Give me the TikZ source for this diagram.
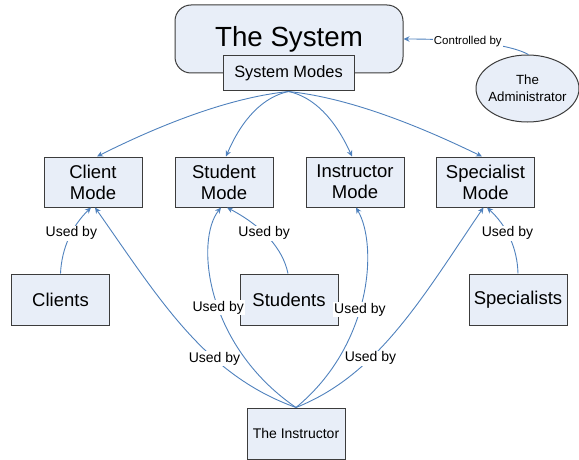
\documentclass[tikz,border=0pt]{standalone}
\usepackage{fontspec}
\setmainfont{Liberation Sans}
\usetikzlibrary{shapes.geometric,arrows.meta}
\definecolor{boxfill}{RGB}{232,238,248}
\definecolor{boxline}{RGB}{60,60,60}
\definecolor{connblue}{RGB}{79,129,189}
\begin{document}
\begin{tikzpicture}[x=1pt,y=-1pt,
  box/.style={draw=boxline,line width=1pt,fill=boxfill,inner sep=0pt,align=center},
  modebox/.style={box,minimum width=98pt,minimum height=50pt,font=\fontsize{18.5}{21}\selectfont},
  actor/.style={box,minimum width=98pt,minimum height=51pt,font=\fontsize{18.5}{21}\selectfont},
  conn/.style={draw=connblue,line width=0.9pt,-{Stealth[length=6pt,width=5.5pt]}},
  lab/.style={fill=white,inner sep=1pt,font=\fontsize{14}{16}\selectfont},
]
\useasboundingbox (0,0) rectangle (579,460);
% top
\node[box,rounded corners=16pt,minimum width=228pt,minimum height=68pt,font=\fontsize{27.7}{30}\selectfont] (sys) at (289,39) {The System};
\node[box,minimum width=131pt,minimum height=35pt,font=\fontsize{16.4}{19}\selectfont] (modes) at (288.5,73.5) {System Modes};
\node[box,ellipse,minimum width=103pt,minimum height=67pt] (admin) at (527.5,88.5) {};
\node[align=center,inner sep=0pt,font=\fontsize{13.3}{17}\selectfont] (admintext) at (admin.center) {The\\Administrator};
% modes
\node[modebox] (client) at (93,182) {Client\\Mode};
\node[modebox] (student) at (224,182) {Student\\Mode};
\node[modebox] (instr) at (355,182) {Instructor\\Mode};
\node[modebox] (spec) at (485.5,182) {Specialist\\Mode};
% users
\node[actor] (clients) at (60.5,299.5) {Clients};
\node[actor] (students) at (289,299.5) {Students};
\node[actor] (specs) at (518,299.5) {Specialists};
\node[actor,font=\fontsize{14}{16}\selectfont] (instructor) at (296,433.5) {The Instructor};
% system modes -> modes
\draw[conn] (modes.south) .. controls (236,97) and (172,119) .. ([xshift=4pt]client.north);
\draw[conn] (modes.south) .. controls (263,97) and (242,119) .. ([xshift=2pt]student.north);
\draw[conn] (modes.south) .. controls (314,97) and (335,119) .. ([xshift=-3pt]instr.north);
\draw[conn] (modes.south) .. controls (341,97) and (405,119) .. ([xshift=-3.5pt]spec.north);
% admin -> system
\draw[conn] ([xshift=1pt]admin.north) .. controls (505,42) and (450,39) .. (sys.east)
  node[lab,pos=0.55,font=\fontsize{11.5}{13}\selectfont] {Controlled by};
% users -> modes
\draw[conn] (clients.north) .. controls (61.7,248) and (72,226) .. ([xshift=-2pt]client.south)
  node[lab,pos=0.57] {Used by};
\draw[conn] ([xshift=-1pt]students.north) .. controls (282.7,248) and (262,226) .. ([xshift=3pt]student.south)
  node[lab,pos=0.57] {Used by};
\draw[conn] (specs.north) .. controls (517.3,248) and (507,226) .. ([xshift=1.5pt]spec.south)
  node[lab,pos=0.57] {Used by};
% instructor -> modes
\draw[conn] (instructor.north) .. controls (205,375) and (160,300) .. ([xshift=2pt]client.south)
  node[lab,pos=0.35] {Used by};
\draw[conn] (instructor.north) .. controls (205,345) and (195,240) .. ([xshift=-3pt]student.south)
  node[lab,pos=0.45] {Used by};
\draw[conn] (instructor.north) .. controls (372,345) and (378,245) .. ([xshift=1pt]instr.south)
  node[lab,pos=0.45] {Used by};
\draw[conn] (instructor.north) .. controls (378,375) and (422,298) .. ([xshift=-2pt]spec.south)
  node[lab,pos=0.35] {Used by};
\end{tikzpicture}
\end{document}
